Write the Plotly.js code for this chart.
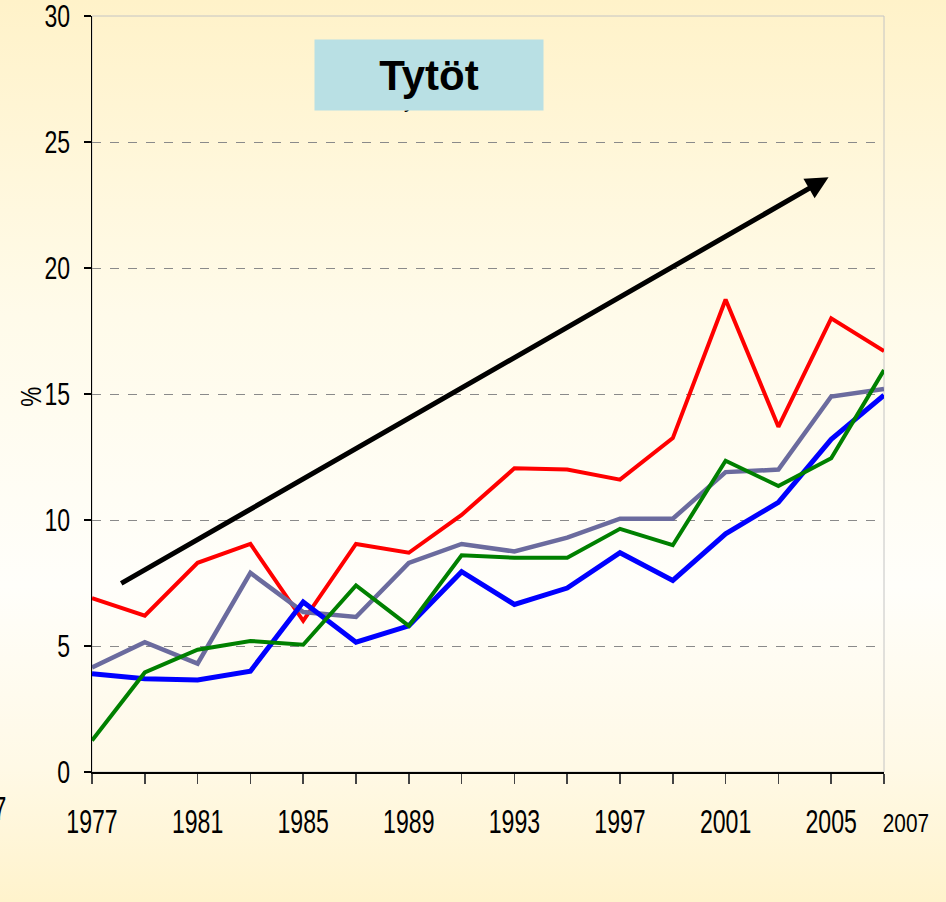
<!DOCTYPE html>
<html><head><meta charset="utf-8">
<script src="https://cdn.plot.ly/plotly-3.0.1.min.js"></script>
<style>
html,body{margin:0;padding:0;}
body{width:946px;height:902px;overflow:hidden;
background:linear-gradient(to bottom,#fff2c9 0%,#fffbea 35%,#fffefa 65%,#fff9e6 85%,#fff3cc 100%);}
#chart{width:946px;height:902px;}
</style></head>
<body><div id="chart"></div>
<script>
const years = [1977,1979,1981,1983,1985,1987,1989,1991,1993,1995,1997,1999,2001,2003,2005,2007];
const redVals   = [6.9,6.2,8.3,9.05,6.0,9.05,8.7,10.2,12.05,12.0,11.6,13.25,18.75,13.7,18.0,16.7];
const grayVals  = [4.15,5.15,4.3,7.9,6.35,6.15,8.3,9.05,8.75,9.3,10.05,10.05,11.9,12.0,14.9,15.2];
const greenVals = [1.25,3.95,4.85,5.2,5.05,7.4,5.8,8.6,8.5,8.5,9.65,9.0,12.35,11.35,12.45,15.95];
const blueVals  = [3.9,3.7,3.65,4.0,6.75,5.15,5.8,7.95,6.65,7.3,8.7,7.6,9.45,10.7,13.2,14.95];
const xTickVals = [1977,1979,1981,1983,1985,1987,1989,1991,1993,1995,1997,1999,2001,2003,2005,2007];
const xTickText = ['1977','','1981','','1985','','1989','','1993','','1997','','2001','','2005',''];
const yTickVals = [0,5,10,15,20,25,30];
const arrowStart = [1978.05, 7.45];
const arrowEnd = [2004.9, 23.6];
const titleText = 'Tytöt';
const yTitle = '%';
const lastYearLabel = '2007';
const strayLabel = '7';

const font = 'Arial, "Liberation Sans", sans-serif';
const mk = (y, color, w) => ({x: years, y: y, type: 'scatter', mode: 'lines',
  line: {color: color, width: w}, hoverinfo: 'skip', showlegend: false});

const data = [
  mk(redVals, '#ff0000', 4),
  mk(grayVals, '#6b6b9e', 4.5),
  mk(blueVals, '#0000ff', 5),
  mk(greenVals, '#008000', 4)
];

const px = v => (v - 92) / 792;      // helper: pixel -> paper x (annotation placement)
const py = v => (772 - v) / 756;     // helper: pixel -> paper y

const layout = {
  width: 946, height: 902,
  margin: {l: 92, r: 62, t: 16, b: 130},
  paper_bgcolor: 'rgba(0,0,0,0)',
  plot_bgcolor: 'rgba(0,0,0,0)',
  showlegend: false,
  xaxis: {
    range: [1977, 2007], tickvals: xTickVals, ticktext: xTickText,
    showgrid: false, zeroline: false,
    showline: true, linecolor: '#000', linewidth: 1.5,
    ticks: 'outside', ticklen: 10, tickcolor: '#444', tickwidth: 1.5,
    ticklabelstandoff: 10, ticklabeloverflow: 'allow',
    tickfont: {family: font, size: 33, color: '#000'}
  },
  yaxis: {
    range: [0, 30], tickvals: yTickVals,
    showgrid: true, gridcolor: '#8a8a8a', griddash: 'dash', gridwidth: 1,
    zeroline: false,
    showline: true, linecolor: '#000', linewidth: 1.5,
    ticks: 'outside', ticklen: 7, tickcolor: '#000', tickwidth: 1.5,
    ticklabelstandoff: 7, ticklabeloverflow: 'allow',
    tickfont: {family: font, size: 32, color: '#000'}
  },
  shapes: [
    {type: 'rect', xref: 'paper', yref: 'paper', x0: 0, x1: 1, y0: 0, y1: 1,
     line: {color: '#c4c4c4', width: 1}, layer: 'below'}
  ],
  annotations: [
    {x: arrowEnd[0], y: arrowEnd[1], ax: arrowStart[0], ay: arrowStart[1],
     xref: 'x', yref: 'y', axref: 'x', ayref: 'y', text: '', showarrow: true,
     arrowhead: 2, arrowsize: 0.9, arrowwidth: 5, arrowcolor: '#000', standoff: 0},
    {xref: 'paper', yref: 'paper', x: px(415), y: py(101), xanchor: 'center', yanchor: 'middle',
     text: titleText, showarrow: false, font: {family: font, size: 20, color: '#000'}},
    {xref: 'paper', yref: 'paper', x: px(429), y: py(75), xanchor: 'center', yanchor: 'middle',
     text: '<b>' + titleText + '</b>', showarrow: false, bgcolor: '#b9e0e4',
     width: 228, height: 70, borderpad: 0,
     font: {family: font, size: 42, color: '#000'}},
    {xref: 'paper', yref: 'paper', x: px(906), y: py(823), xanchor: 'center', yanchor: 'middle',
     text: lastYearLabel, showarrow: false, font: {family: font, size: 26, color: '#000'}},
    {xref: 'paper', yref: 'paper', x: px(8), y: py(808), xanchor: 'right', yanchor: 'middle',
     text: strayLabel, showarrow: false, font: {family: font, size: 33, color: '#000'}},
    {xref: 'paper', yref: 'paper', x: px(30), y: py(397), xanchor: 'center', yanchor: 'middle',
     text: yTitle, textangle: -90, showarrow: false, font: {family: font, size: 30, color: '#000'}}
  ]
};

// horizontally condense a text element (emulates the narrow font of the original)
function squeeze(t, s, anchor) {
  const b = t.getBBox();
  const cx = anchor === 'right' ? b.x + b.width : b.x + b.width / 2;
  const T = t.getAttribute('transform') || '';
  t.setAttribute('transform', T + ` translate(${cx},0) scale(${s},1) translate(${-cx},0)`);
}

Plotly.newPlot('chart', data, layout, {staticPlot: true}).then(() => {
  document.querySelectorAll('.xtick text').forEach(t => squeeze(t, 0.7, 'center'));
  document.querySelectorAll('.ytick text').forEach(t => squeeze(t, 0.72, 'right'));
  document.querySelectorAll('.annotation-text').forEach(t => {
    if (t.textContent === lastYearLabel) squeeze(t, 0.8, 'center');
    else if (t.textContent === strayLabel) squeeze(t, 0.7, 'right');
    else if (t.textContent === yTitle) squeeze(t, 0.75, 'center');
  });
});
</script></body></html>
